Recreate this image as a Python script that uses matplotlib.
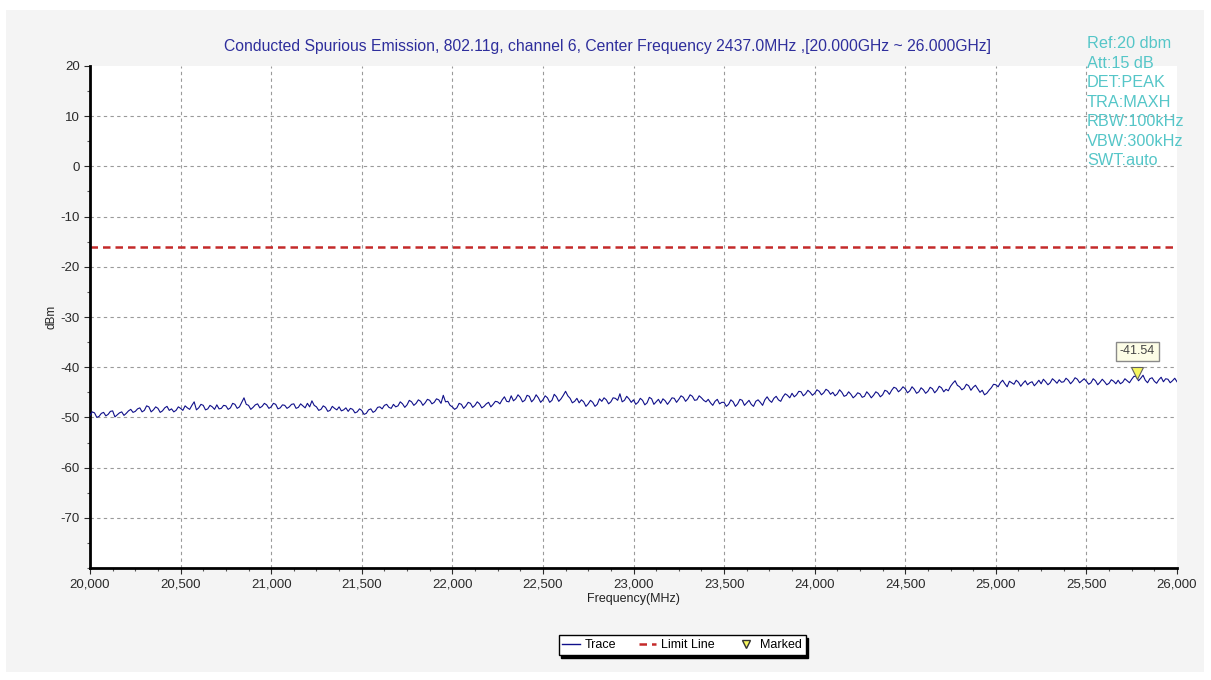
import numpy as np
import matplotlib
matplotlib.use('Agg')
import matplotlib.pyplot as plt
from matplotlib.lines import Line2D
from matplotlib.patches import Rectangle

plt.rcParams['font.family'] = ['Liberation Sans', 'DejaVu Sans']
plt.rcParams['axes.unicode_minus'] = False

# trace, one point every 25 MHz from 20,000 to 26,000 MHz
freq_start = 20000
freq_step = 25
trace_dbm = [
	-49.6, -49.1, -49.8, -49.0, -49.4, -48.7, -49.5, -48.9, -49.2, -48.4,
	-48.8, -48.1, -48.6, -47.9, -48.5, -48.2, -48.7, -47.8, -48.3, -48.6,
	-48.2, -47.7, -48.4, -46.9, -48.1, -47.6, -48.3, -47.9, -47.5, -48.2,
	-47.7, -48.1, -47.4, -47.9, -46.1, -47.6, -48.0, -47.3, -47.8, -47.5,
	-47.9, -47.4, -48.1, -47.6, -47.9, -47.3, -48.0, -47.7, -47.2, -46.7,
	-47.9, -48.4, -48.0, -48.6, -48.2, -47.9, -48.5, -48.8, -48.4, -48.9,
	-48.6, -49.2, -48.3, -48.7, -47.9, -47.6, -48.0, -47.4, -47.7, -47.3,
	-47.5, -46.9, -47.2, -46.8, -47.1, -46.6, -47.0, -46.5, -45.6, -46.8,
	-47.9, -48.1, -47.4, -47.7, -47.2, -47.6, -47.3, -47.8, -47.0, -47.4,
	-46.9, -46.5, -46.8, -45.7, -46.3, -46.0, -46.6, -45.8, -46.4, -46.1,
	-46.5, -46.1, -46.6, -45.9, -46.3, -44.8, -46.2, -46.8, -47.1, -46.9,
	-47.3, -47.0, -47.4, -46.8, -46.5, -46.9, -46.2, -45.3, -46.6, -46.3,
	-46.5, -47.0, -46.6, -47.1, -46.3, -46.9, -47.2, -46.7, -46.8, -46.2,
	-46.4, -46.0, -46.3, -45.8, -46.5, -46.1, -46.9, -47.1, -46.8, -47.3,
	-47.0, -47.4, -46.9, -47.3, -46.6, -47.1, -47.4, -46.8, -47.0, -46.5,
	-46.6, -46.2, -46.5, -45.9, -45.6, -45.2, -45.5, -44.9, -45.3, -45.0,
	-45.2, -44.8, -45.1, -44.7, -45.0, -45.3, -45.0, -45.6, -45.4, -45.7,
	-45.3, -45.8, -45.4, -45.6, -45.2, -45.5, -44.8, -44.6, -44.2, -44.5,
	-44.3, -44.7, -44.4, -44.9, -44.5, -44.8, -44.3, -44.6, -44.1, -44.4,
	-43.8, -42.7, -43.9, -44.2, -43.7, -44.0, -44.3, -44.6, -45.2, -44.1,
	-43.5, -43.1, -43.3, -42.8, -43.4, -43.0, -43.2, -43.5, -42.9, -43.2,
	-43.3, -42.9, -43.1, -42.7, -42.5, -42.9, -42.6, -42.8, -42.4, -42.7,
	-42.8, -43.1, -42.7, -43.0, -42.9, -43.2, -42.8, -42.6, -43.0, -42.7,
	-42.4, -41.9, -42.2, -42.6, -42.3, -42.8, -42.5, -42.9, -42.4, -42.7,
	-42.9,
]
# readings half way between the points above (20,012.5 MHz, 20,037.5 MHz, ...)
trace_dbm_mid = [
	-48.9, -50.0, -49.2, -49.7, -48.8, -49.9, -49.1, -49.6, -48.7, -49.0,
	-48.3, -48.9, -47.7, -48.9, -47.9, -49.0, -48.1, -48.6, -48.9, -47.9,
	-48.6, -48.1, -47.6, -48.5, -47.4, -48.5, -47.6, -48.4, -48.3, -47.6,
	-48.4, -47.2, -48.2, -47.0, -47.4, -48.4, -47.5, -48.1, -47.2, -48.2,
	-47.2, -48.3, -47.5, -48.2, -47.4, -48.2, -47.3, -48.1, -47.9, -47.6,
	-48.6, -47.7, -48.8, -47.8, -48.5, -48.7, -48.1, -48.2, -49.1, -48.3,
	-49.4, -48.5, -49.0, -48.0, -48.3, -47.4, -48.2, -47.9, -46.9, -48.0,
	-46.6, -47.6, -46.5, -47.6, -46.4, -47.3, -46.3, -47.2, -46.9, -47.6,
	-48.4, -47.2, -48.2, -47.0, -48.0, -46.9, -48.1, -47.3, -47.9, -46.8,
	-47.3, -45.9, -46.9, -46.7, -45.5, -46.9, -45.6, -46.9, -45.5, -47.0,
	-45.7, -47.0, -45.4, -46.8, -45.6, -45.7, -47.1, -46.2, -46.5, -47.8,
	-46.6, -47.8, -46.3, -46.1, -47.3, -46.1, -46.6, -46.9, -45.8, -47.0,
	-47.4, -46.2, -47.5, -46.0, -47.4, -46.4, -46.3, -47.4, -46.1, -47.0,
	-45.7, -46.8, -45.5, -46.6, -45.7, -46.6, -46.4, -47.6, -46.4, -47.0,
	-47.8, -46.5, -47.8, -46.4, -47.6, -46.6, -47.8, -46.5, -47.6, -45.9,
	-47.0, -45.8, -46.8, -45.3, -46.1, -45.9, -44.8, -45.7, -44.6, -45.6,
	-44.5, -45.5, -44.4, -45.4, -45.7, -44.5, -45.8, -44.9, -46.1, -45.1,
	-46.0, -44.9, -46.1, -44.9, -45.9, -44.6, -45.4, -44.0, -44.9, -43.9,
	-45.1, -43.9, -45.2, -44.1, -45.2, -44.0, -45.1, -43.8, -44.9, -44.7,
	-43.2, -43.6, -44.5, -43.4, -44.6, -43.6, -45.0, -45.5, -44.6, -43.4,
	-43.9, -42.6, -43.9, -43.1, -42.6, -43.8, -42.7, -43.1, -43.7, -42.6,
	-42.4, -43.5, -42.3, -43.2, -43.0, -42.2, -43.3, -42.1, -43.1, -42.3,
	-43.4, -42.3, -43.5, -42.4, -43.5, -42.5, -43.3, -43.3, -42.3, -43.1,
	-41.8, -42.7, -41.6, -43.1, -42.1, -43.2, -42.0, -42.3, -43.1, -42.2,
]
trace_freq = freq_start + freq_step * np.arange(len(trace_dbm))
mid_freq = trace_freq[:-1] + freq_step / 2
# merge both sets into one sweep
all_freq = np.empty(len(trace_freq) + len(mid_freq))
all_freq[0::2] = trace_freq
all_freq[1::2] = mid_freq
all_dbm = np.empty(len(all_freq))
all_dbm[0::2] = trace_dbm
all_dbm[1::2] = trace_dbm_mid

limit_dbm = -16.0
marker_freq = 25780
marker_dbm = -41.54

x_ticks = [20000, 20500, 21000, 21500, 22000, 22500, 23000, 23500, 24000, 24500, 25000, 25500, 26000]
y_ticks = [20, 10, 0, -10, -20, -30, -40, -50, -60, -70]

title = 'Conducted Spurious Emission, 802.11g, channel 6, Center Frequency 2437.0MHz ,[20.000GHz ~ 26.000GHz]'
info_lines = ['Ref:20 dbm', 'Att:15 dB', 'DET:PEAK', 'TRA:MAXH', 'RBW:100kHz', 'VBW:300kHz', 'SWT:auto']

W, H = 1211, 680
fig = plt.figure(figsize=(W / 100, H / 100), dpi=100, facecolor='white')
# light grey panel behind everything
fig.patches.append(Rectangle((6 / W, 8 / H), 1198 / W, 662 / H, transform=fig.transFigure,
							 facecolor='#f4f4f4', edgecolor='none', zorder=-10))

ax = fig.add_axes([90 / W, 1 - 568 / H, 1087 / W, 502 / H])
ax.set_zorder(1)
ax.set_facecolor('white')
ax.set_xlim(20000, 26000)
ax.set_ylim(-80, 20)

# grid drawn by hand so the top / edges stay clean
for x in x_ticks[1:-1]:
	ax.axvline(x, color='#9a9a9a', lw=0.8, ls=(0, (3, 3)), zorder=1)
for y in y_ticks[1:]:
	ax.axhline(y, color='#9a9a9a', lw=0.8, ls=(0, (3, 3)), zorder=1)

ax.axhline(limit_dbm, color='#c42a2a', lw=1.8, ls=(0, (3, 2)), zorder=2)
ax.plot(all_freq, all_dbm, color='#10108a', lw=0.8, zorder=3)
ax.plot([marker_freq], [marker_dbm + 0.4], marker='v', ms=8, color='#f6f65e', mec='#606060', mew=0.8, ls='none', zorder=4)
ax.annotate('%.2f' % marker_dbm, xy=(marker_freq, marker_dbm), xytext=(0, 17), textcoords='offset points',
			ha='center', va='center', fontsize=9, color='#444444',
			bbox=dict(boxstyle='square,pad=0.3', fc='#fdfde6', ec='#8a8a8a', lw=1), zorder=5)

for side in ['top', 'right']:
	ax.spines[side].set_visible(False)
ax.spines['left'].set_linewidth(2)
ax.spines['bottom'].set_linewidth(2)

ax.set_xticks(x_ticks)
ax.set_xticklabels(['{:,}'.format(x) for x in x_ticks])
ax.set_xticks(np.arange(20000, 26001, 125), minor=True)
ax.set_yticks(y_ticks)
ax.set_yticks(np.arange(-80, 21, 5), minor=True)
ax.tick_params(axis='both', which='major', labelsize=9.5, colors='#2a2a2a', length=4, width=0.8)
ax.tick_params(axis='both', which='minor', length=2.5, width=0.8, colors='#555555')

ax.set_xlabel('Frequency(MHz)', fontsize=9, color='#222222', labelpad=2)
ax.set_ylabel('dBm', fontsize=8.5, color='#222222', labelpad=2)

fig.text(608 / W, 1 - 47 / H, title, ha='center', va='center', fontsize=11.3, color='#2e2e9c')
for i, line in enumerate(info_lines):
	fig.text(1087 / W, 1 - (44 + i * 19.4) / H, line, ha='left', va='center', fontsize=11.7, color='#55c6c8')

handles = [Line2D([], [], color='#10108a', lw=1),
		   Line2D([], [], color='#c42a2a', lw=1.8, ls=(0, (3, 2))),
		   Line2D([], [], marker='v', ms=6, color='#f6f65e', mec='#333333', ls='none')]
leg = fig.legend(handles, ['Trace', 'Limit Line', 'Marked'], loc='center', bbox_to_anchor=(682 / W, 1 - 645 / H),
				 ncol=3, fontsize=9, frameon=True, fancybox=False, handlelength=1.4, handletextpad=0.4,
				 columnspacing=1.8, borderpad=0.3, shadow={'color': 'black', 'alpha': 1})
leg.get_frame().set_edgecolor('black')
leg.get_frame().set_linewidth(1)

fig.savefig('out.png', dpi=100, facecolor=fig.get_facecolor())
